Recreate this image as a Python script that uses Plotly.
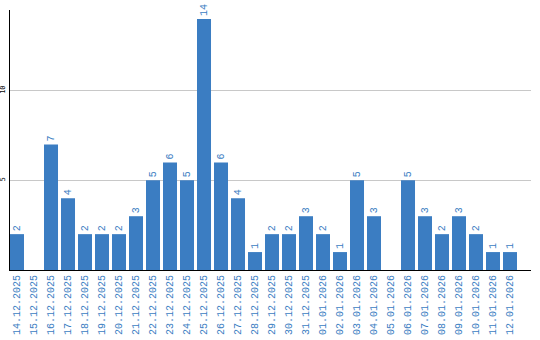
import plotly.graph_objects as go

dates = ["14.12.2025", "15.12.2025", "16.12.2025", "17.12.2025", "18.12.2025",
         "19.12.2025", "20.12.2025", "21.12.2025", "22.12.2025", "23.12.2025",
         "24.12.2025", "25.12.2025", "26.12.2025", "27.12.2025", "28.12.2025",
         "29.12.2025", "30.12.2025", "31.12.2025", "01.01.2026", "02.01.2026",
         "03.01.2026", "04.01.2026", "05.01.2026", "06.01.2026", "07.01.2026",
         "08.01.2026", "09.01.2026", "10.01.2026", "11.01.2026", "12.01.2026"]
counts = [2, 0, 7, 4, 2, 2, 2, 3, 5, 6, 5, 14, 6, 4, 1,
          2, 2, 3, 2, 1, 5, 3, 0, 5, 3, 2, 3, 2, 1, 1]
y_ticks = [5, 10]

BLUE = "#3b7dc2"
FONT = "Liberation Mono"
labels = [str(v) if v > 0 else "" for v in counts]

fig = go.Figure(go.Bar(
    x=dates, y=counts, marker=dict(color=BLUE, line=dict(width=0)),
    text=labels, textposition="outside", textangle=-90,
    textfont=dict(family=FONT, size=10, color=BLUE),
    cliponaxis=False,
))

fig.update_layout(
    width=540, height=340,
    margin=dict(l=10, r=9, t=10, b=70),
    paper_bgcolor="white", plot_bgcolor="white",
    bargap=0.176, showlegend=False,
    uniformtext=dict(mode=False),
)
fig.update_xaxes(
    type="category", range=[-0.412, 30.235],
    showline=True, linecolor="black", linewidth=1,
    tickangle=-90, ticks="", showgrid=False,
    tickfont=dict(family=FONT, size=10, color=BLUE),
    automargin=False,
)
fig.update_yaxes(
    range=[0, 14.5], tickvals=y_ticks, ticktext=[str(t) for t in y_ticks],
    showline=True, linecolor="black", linewidth=1,
    showgrid=True, gridcolor="#c8c8c8", gridwidth=1,
    zeroline=False, ticks="", tickangle=-90,
    tickfont=dict(family="DejaVu Sans Mono", size=7, color="black"),
    automargin=False, ticklabelstandoff=1,
)

fig.write_html("out.html")
